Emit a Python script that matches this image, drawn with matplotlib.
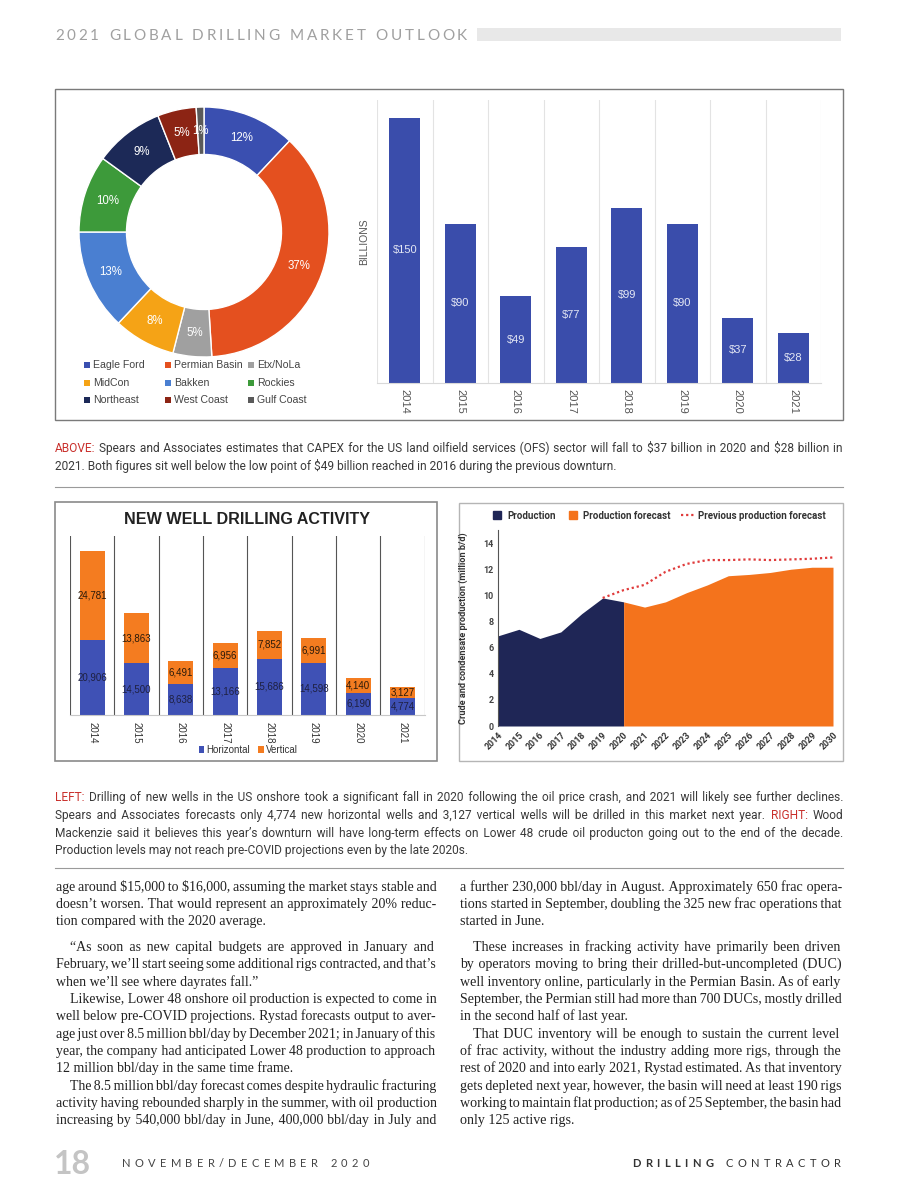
import numpy as np
import matplotlib
matplotlib.use("Agg")
import matplotlib.pyplot as plt
from matplotlib import font_manager
from matplotlib.patches import Rectangle
from matplotlib.lines import Line2D

W, H, DPI = 897, 1200, 100

# ---------------- data ----------------
regions = ["Eagle Ford", "Permian Basin", "Etx/NoLa", "MidCon", "Bakken",
           "Rockies", "Northeast", "West Coast", "Gulf Coast"]
region_share = [12, 37, 5, 8, 13, 10, 9, 5, 1]
region_colors = ["#3a4fb0", "#e4501f", "#a0a0a0", "#f5a316", "#4a7fd1",
                 "#3d9a3a", "#1c2957", "#8c2414", "#5a5a5a"]

capex_years = ["2014", "2015", "2016", "2017", "2018", "2019", "2020", "2021"]
capex_billions = [150, 90, 49, 77, 99, 90, 37, 28]

well_years = capex_years
horizontal_wells = [20906, 14500, 8638, 13166, 15686, 14598, 6190, 4774]
vertical_wells = [24781, 13863, 6491, 6956, 7852, 6991, 4140, 3127]

prod_years = [2014, 2015, 2016, 2017, 2018, 2019, 2020]
production = [6.9, 7.4, 6.7, 7.2, 8.6, 9.8, 9.5]
fcst_years = [2020, 2021, 2022, 2023, 2024, 2025, 2026, 2027, 2028, 2029, 2030]
production_forecast = [9.5, 9.1, 9.5, 10.2, 10.8, 11.5, 11.6, 11.75, 12.0, 12.15, 12.15]
prev_years = [2019, 2020, 2021, 2022, 2023, 2024, 2025, 2026, 2027, 2028, 2029, 2030]
previous_forecast = [9.8, 10.4, 10.8, 11.8, 12.4, 12.7, 12.7, 12.75, 12.7, 12.75, 12.8, 12.9]

caption_above = [
    ("ABOVE: Spears and Associates estimates that CAPEX for the US land oilfield services (OFS) sector will fall to $37 billion in 2020 and $28 billion in", 0, True),
    ("2021. Both figures sit well below the low point of $49 billion reached in 2016 during the previous downturn.", 0, False),
]
caption_below = [
    ("LEFT: Drilling of new wells in the US onshore took a significant fall in 2020 following the oil price crash, and 2021 will likely see further declines.", 0, True),
    ("Spears and Associates forecasts only 4,774 new horizontal wells and 3,127 vertical wells will be drilled in this market next year. RIGHT: Wood", 0, True),
    ("Mackenzie said it believes this year’s downturn will have long-term effects on Lower 48 crude oil producton going out to the end of the decade.", 0, True),
    ("Production levels may not reach pre-COVID projections even by the late 2020s.", 0, False),
]
body_left = [
    ("age around $15,000 to $16,000, assuming the market stays stable and", 0, True),
    ("doesn’t worsen. That would represent an approximately 20% reduc-", 0, True),
    ("tion compared with the 2020 average.", 0, False),
    ("“As soon as new capital budgets are approved in January and", 14, True),
    ("February, we’ll start seeing some additional rigs contracted, and that’s", 0, True),
    ("when we’ll see where dayrates fall.”", 0, False),
    ("Likewise, Lower 48 onshore oil production is expected to come in", 14, True),
    ("well below pre-COVID projections. Rystad forecasts output to aver-", 0, True),
    ("age just over 8.5 million bbl/day by December 2021; in January of this", 0, True),
    ("year, the company had anticipated Lower 48 production to approach", 0, True),
    ("12 million bbl/day in the same time frame.", 0, False),
    ("The 8.5 million bbl/day forecast comes despite hydraulic fracturing", 14, True),
    ("activity having rebounded sharply in the summer, with oil production", 0, True),
    ("increasing by 540,000 bbl/day in June, 400,000 bbl/day in July and", 0, True),
]
body_right = [
    ("a further 230,000 bbl/day in August. Approximately 650 frac opera-", 0, True),
    ("tions started in September, doubling the 325 new frac operations that", 0, True),
    ("started in June.", 0, False),
    ("These increases in fracking activity have primarily been driven", 13, True),
    ("by operators moving to bring their drilled-but-uncompleted (DUC)", 0, True),
    ("well inventory online, particularly in the Permian Basin. As of early", 0, True),
    ("September, the Permian still had more than 700 DUCs, mostly drilled", 0, True),
    ("in the second half of last year.", 0, False),
    ("That DUC inventory will be enough to sustain the current level", 13, True),
    ("of frac activity, without the industry adding more rigs, through the", 0, True),
    ("rest of 2020 and into early 2021, Rystad estimated. As that inventory", 0, True),
    ("gets depleted next year, however, the basin will need at least 190 rigs", 0, True),
    ("working to maintain flat production; as of 25 September, the basin had", 0, True),
    ("only 125 active rigs.", 0, False),
]
body_baselines = [891, 908, 925, 951, 968, 986, 1003, 1020, 1038, 1055, 1072, 1090, 1107, 1124]

# ---------------- fonts ----------------
installed = {f.name for f in font_manager.fontManager.ttflist}
SANS = "Liberation Sans"
SERIF = ["Liberation Serif", "DejaVu Serif"]
if "Liberation Sans Narrow" in installed:
    CAP_FONT, CAP_SIZE = ["Liberation Sans Narrow", "DejaVu Sans"], 9.2
else:
    CAP_FONT, CAP_SIZE = ["Roboto", "DejaVu Sans"], 8.6
RED = "#c9302c"
RED_WORDS = ("ABOVE:", "LEFT:", "RIGHT:")
SP, THIN, HAIR = " ", "\u2009", "\u200a"

fig = plt.figure(figsize=(W / DPI, H / DPI), dpi=DPI)
renderer = fig.canvas.get_renderer()


def px_axes(x0, y0, x1, y1):
    return fig.add_axes([x0 / W, 1 - y1 / H, (x1 - x0) / W, (y1 - y0) / H])


page = px_axes(0, 0, W, H)
page.set_xlim(0, W)
page.set_ylim(H, 0)
page.axis("off")


def width(t):
    return t.get_window_extent(renderer).width


def measure(s, family, size):
    t = page.text(0, 0, s, family=family, fontsize=size, parse_math=False)
    w = width(t)
    t.remove()
    return w


def tracked(s, x0, x1, y, bold_upto=0, **style):
    """Letter-spaced text spread between x0 and x1."""
    objs = [page.text(0, y, ch, va="baseline",
                      fontweight="bold" if i < bold_upto else "normal", **style)
            for i, ch in enumerate(s)]
    ws = [style["fontsize"] * DPI / 72 * 0.3 if ch == " " else width(o)
          for o, ch in zip(objs, s)]
    extra = (x1 - x0 - sum(ws)) / (len(s) - 1)
    x = x0
    for o, w in zip(objs, ws):
        o.set_x(x)
        x += w + extra


def justify_gaps(words, target, family, size, sw):
    """Pick a run of (thin/hair) spaces for every gap so the line fills target."""
    n = len(words) - 1
    natural = measure(SP.join(words), family, size)
    per_gap = (target - (natural - n * sw[SP])) / n
    options = []
    for base in ("", THIN, SP):
        for k in range(13):
            g = base + HAIR * k
            w = sum(sw[c] for c in g)
            if g and w >= 0.6 * sw[SP]:
                options.append((w, g))
    gaps, done = [], 0.0
    for i in range(n):
        want = per_gap * (i + 1) - done
        w, g = min(options, key=lambda o: abs(o[0] - want))
        gaps.append(g)
        done += w
    return gaps


def text_block(lines, x0, x1, ys, family, size, color):
    """Justified paragraph lines, each drawn as one text run (red lead words apart)."""
    nn = measure("nn", family, size)
    sw = {c: measure("n" + c + "n", family, size) - nn for c in (SP, THIN, HAIR)}
    scale = 1.0
    for txt, indent, just in lines:
        if just:
            n = txt.count(" ")
            tight = measure(txt, family, size) - n * 0.3 * sw[SP]
            scale = min(scale, (x1 - x0 - indent) / tight)
    size *= scale
    sw = {c: v * scale for c, v in sw.items()}

    for (txt, indent, just), y in zip(lines, ys):
        left = x0 + indent
        words = txt.split(" ")
        gaps = justify_gaps(words, x1 - left, family, size, sw) if just else [SP] * (len(words) - 1)
        # group words into runs of one colour
        runs, cur, x = [], words[0], left
        cur_red = words[0] in RED_WORDS
        for g, w in zip(gaps, words[1:]):
            red = w in RED_WORDS
            if red or cur_red:
                runs.append((cur, cur_red, g))
                cur, cur_red = w, red
            else:
                cur += g + w
        runs.append((cur, cur_red, ""))
        for s, red, g in runs:
            t = page.text(x, y, s, family=family, fontsize=size, va="baseline",
                          color=RED if red else color, parse_math=False)
            x += width(t) + sum(sw[c] for c in g)


# ---------------- page furniture ----------------
tracked("2021 GLOBAL DRILLING MARKET OUTLOOK", 55, 467, 40,
        family="Lato", fontsize=11, color="#a0a0a0")
page.add_patch(Rectangle((477, 28), 364, 13, color="#e8e8e8", lw=0))
page.add_patch(Rectangle((55, 89), 788, 331, fill=False, ec="#7a7a7a", lw=1))
page.add_patch(Rectangle((55, 502), 382, 259, fill=False, ec="#8a8a8a", lw=1.2))
page.add_patch(Rectangle((459, 503), 384, 258, fill=False, ec="#b5b5b5", lw=1))
page.plot([55, 843], [487, 487], color="#9a9a9a", lw=0.8)
page.plot([55, 843], [868, 868], color="#9a9a9a", lw=0.8)

text_block(caption_above, 55, 843, [452, 470], CAP_FONT, CAP_SIZE, "#3a3a3a")
text_block(caption_below, 55, 843, [801, 819, 837, 854], CAP_FONT, CAP_SIZE, "#3a3a3a")
text_block(body_left, 56, 437, body_baselines, SERIF, 10.5, "#222222")
text_block(body_right, 460, 842, body_baselines, SERIF, 10.5, "#222222")

page.text(54, 1174, "18", family="Lato", fontweight="bold", fontsize=23,
          color="#c4c4c4", va="baseline")
tracked("NOVEMBER/DECEMBER 2020", 122, 369, 1167, family="Lato",
        fontsize=8, color="#444444")
tracked("DRILLING CONTRACTOR", 632, 841, 1167, bold_upto=8, family="Lato",
        fontsize=8, color="#333333")

# ---------------- donut: rig share by region ----------------
ax = px_axes(74, 102, 334, 362)
ax.pie(region_share, colors=region_colors, startangle=90, counterclock=False,
       wedgeprops=dict(width=0.38, edgecolor="white", linewidth=1),
       autopct="%.0f%%", pctdistance=0.81,
       textprops=dict(color="white", fontsize=8.3, family=SANS))
ax.set_xlim(-1.04, 1.04)
ax.set_ylim(-1.04, 1.04)
ax.set_aspect("equal")

for i, (name, col) in enumerate(zip(regions, region_colors)):
    lx = [87, 168, 251][i % 3]
    ly = [365, 382.7, 400][i // 3]
    page.scatter([lx], [ly], marker="s", s=14, color=col, lw=0)
    page.text(lx + 6, ly, name, family=SANS, fontsize=7.6, color="#444444", va="center")

# ---------------- CAPEX bars ----------------
ax = px_axes(377, 100, 821, 383)
x = np.arange(len(capex_years))
ax.bar(x, capex_billions, width=0.56, color="#3a4dab", zorder=2)
for xi, v in zip(x, capex_billions):
    ax.text(xi, v / 2, f"${v}", ha="center", va="center", color="#e4e7f4",
            fontsize=8, family=SANS, parse_math=False)
ax.set_xlim(-0.5, 7.5)
ax.set_ylim(0, 160)
ax.set_xticks(x, capex_years, rotation=270, fontsize=8, color="#555555", family=SANS)
ax.set_xticks(np.arange(-0.5, 8), minor=True)
ax.grid(which="minor", axis="x", color="#e3e3e3", lw=0.8)
ax.tick_params(which="both", length=0, pad=4)
ax.set_yticks([])
for s in ["top", "left", "right"]:
    ax.spines[s].set_visible(False)
ax.spines["bottom"].set_color("#d9d9d9")
ax.set_ylabel("BILLIONS", fontsize=7.5, color="#555555", family=SANS)
ax.yaxis.set_label_coords(-0.018, 0.5)
ax.set_facecolor("none")

# ---------------- new well drilling activity ----------------
page.text(247, 520, "NEW WELL DRILLING ACTIVITY", ha="center", va="center",
          family=SANS, fontweight="bold", fontsize=11.6, color="#222222")
ax = px_axes(70, 536, 424.7, 715)
x = np.arange(len(well_years))
hb = ax.bar(x, horizontal_wells, width=0.565, color="#3f51b5", label="Horizontal", zorder=2)
vb = ax.bar(x, vertical_wells, bottom=horizontal_wells, width=0.565, color="#f47c20",
            label="Vertical", zorder=2)
for xi, h, v in zip(x, horizontal_wells, vertical_wells):
    ax.text(xi, h / 2, f"{h:,}", ha="center", va="center", fontsize=7,
            color="#1e2040", family=SANS, zorder=3)
    ax.text(xi, h + v / 2, f"{v:,}", ha="center", va="center", fontsize=7,
            color="#2a1a0a", family=SANS, zorder=3)
ax.set_xlim(-0.5, 7.5)
ax.set_ylim(0, 50000)
ax.set_xticks(x, well_years, rotation=270, fontsize=7, color="#333333", family=SANS)
ax.set_xticks(np.arange(-0.5, 8), minor=True)
ax.grid(which="minor", axis="x", color="#555555", lw=0.8)
ax.tick_params(which="both", length=0, pad=5)
ax.set_yticks([])
for s in ["top", "left", "right"]:
    ax.spines[s].set_visible(False)
ax.spines["bottom"].set_color("#c8c8c8")
ax.set_facecolor("none")
fig.legend(handles=[hb, vb], ncol=2, loc="center", bbox_to_anchor=(248 / W, 1 - 750 / H),
           frameon=False, prop=dict(family=SANS, size=7), handlelength=0.6,
           handleheight=0.6, handletextpad=0.2, columnspacing=0.8, labelcolor="#333333")

# ---------------- production outlook ----------------
ax = px_axes(498, 530, 833, 726)
ax.fill_between(prod_years, production, color="#1f2656", lw=0)
ax.fill_between(fcst_years, production_forecast, color="#f4731c", lw=0)
ax.plot(prev_years, previous_forecast, color="#e03b3b", lw=1.6, linestyle=(0, (1, 1.3)))
ax.set_xlim(2014, 2030)
ax.set_ylim(0, 15)
ax.set_yticks(range(0, 15, 2), [str(v) for v in range(0, 15, 2)], fontsize=6.5,
              fontweight="bold", color="#444444", family="Roboto")
all_years = list(range(2014, 2031))
ax.set_xticks(all_years, [str(y) for y in all_years], rotation=45, ha="right",
              rotation_mode="anchor", fontsize=6.5, fontweight="bold", color="#333333",
              family="Roboto")
ax.tick_params(length=0, pad=3)
for s in ["top", "right", "bottom"]:
    ax.spines[s].set_visible(False)
ax.spines["left"].set_color("#555555")
ax.spines["left"].set_linewidth(0.8)
ax.set_ylabel("Crude and condensate production (million b/d)", fontsize=6.6,
              fontweight="bold", color="#333333", family="Roboto")
ax.yaxis.set_label_coords(-0.09, 0.5)
ax.set_facecolor("none")
handles = [Line2D([], [], marker="s", ls="none", color="#1f2656", ms=6),
           Line2D([], [], marker="s", ls="none", color="#f4731c", ms=6),
           Line2D([], [], color="#e03b3b", lw=1.6, linestyle=(0, (1, 1.3)))]
fig.legend(handles, ["Production", "Production forecast", "Previous production forecast"],
           ncol=3, loc="center", bbox_to_anchor=(658 / W, 1 - 515.7 / H), frameon=False,
           prop=dict(family="Roboto", weight="bold", size=7), handlelength=1.5,
           handletextpad=0.3, columnspacing=1.0, labelcolor="#333333")

fig.savefig("out.png", dpi=DPI)
plt.close(fig)
